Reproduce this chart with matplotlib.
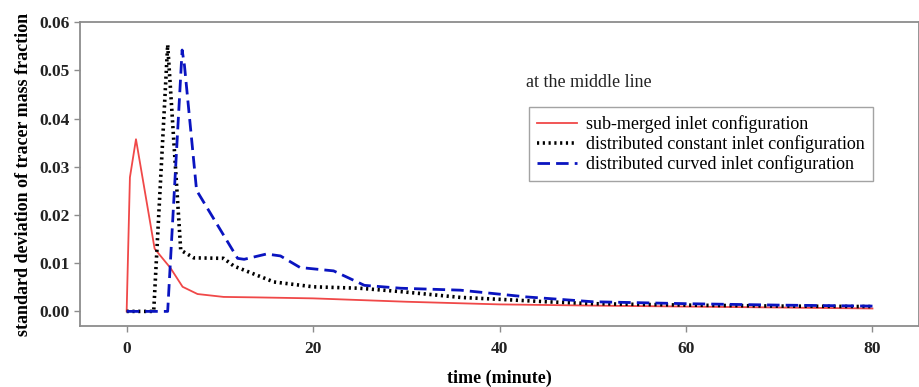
import matplotlib
matplotlib.use('Agg')
import matplotlib.pyplot as plt

# sub-merged inlet configuration (red, solid)
t_sub = [0.0, 0.35, 1.0, 3.0, 4.7, 6.0, 7.6, 10.4, 14.0, 20.0, 30.0, 40.0, 50.0, 60.0, 70.0, 80.0]
sd_sub = [0.0, 0.0278, 0.0357, 0.0130, 0.0090, 0.0051, 0.0036, 0.0030, 0.0029, 0.0027, 0.0020, 0.00145, 0.0012, 0.0010, 0.0008, 0.0006]

# distributed constant inlet configuration (black, dotted)
t_const = [0.0, 2.9, 4.4, 5.8, 7.2, 10.4, 11.5, 15.8, 20.0, 25.0, 29.4, 35.8, 40.0, 45.0, 50.0, 60.0, 70.0, 80.0]
sd_const = [0.0, 0.0, 0.0553, 0.0127, 0.0111, 0.0110, 0.0094, 0.0061, 0.0051, 0.0048, 0.0041, 0.0029, 0.0025, 0.0020, 0.0016, 0.0013, 0.0011, 0.0010]

# distributed curved inlet configuration (blue, dashed)
t_curv = [0.0, 4.4, 5.95, 6.2, 7.5, 11.9, 12.6, 15.0, 16.5, 18.6, 22.2, 25.5, 29.4, 35.8, 42.9, 50.0, 60.0, 70.0, 80.0]
sd_curv = [0.0, 0.0, 0.0542, 0.0510, 0.0251, 0.0110, 0.0108, 0.0119, 0.0115, 0.0091, 0.0084, 0.0054, 0.0048, 0.0044, 0.0030, 0.0020, 0.0016, 0.0013, 0.0011]

x_ticks = [0, 20, 40, 60, 80]
y_ticks = [0.00, 0.01, 0.02, 0.03, 0.04, 0.05, 0.06]

plt.rcParams['font.family'] = ['Liberation Serif', 'DejaVu Serif']

fig = plt.figure(figsize=(9.2, 3.87), dpi=100)
ax = fig.add_axes([0.087, 0.158, 0.912, 0.785])

ax.plot(t_sub, sd_sub, color='#f04848', lw=1.3, label='sub-merged inlet configuration')
ax.plot(t_const, sd_const, color='black', lw=2.6, linestyle=(0, (0.6, 1.0)),
        label='distributed constant inlet configuration')
ax.plot(t_curv, sd_curv, color='#0a14c0', lw=2.0, linestyle=(0, (4.5, 2.2)),
        label='distributed curved inlet configuration')

ax.set_xlim(-5, 85)
ax.set_ylim(-0.003, 0.06)
ax.set_xticks(x_ticks)
ax.set_yticks(y_ticks)
ax.set_xticklabels([str(v) for v in x_ticks])
ax.set_yticklabels([f'{v:.2f}' for v in y_ticks])

for s in ax.spines.values():
    s.set_color('#8c8c8c')
    s.set_linewidth(1.3)
ax.tick_params(colors='#8c8c8c', length=4, width=1.0, labelcolor='#222222')
for lab in ax.get_xticklabels() + ax.get_yticklabels():
    lab.set_fontweight('bold')
    lab.set_fontsize(12.5)
ax.tick_params(axis='x', pad=7)

ax.set_xlabel('time (minute)', fontsize=13, fontweight='bold', labelpad=9)
ax.set_ylabel('standard deviation of tracer mass fraction', fontsize=13, fontweight='bold', labelpad=5)

ax.text(0.532, 0.802, 'at the middle line', transform=ax.transAxes, fontsize=13,
        va='center', ha='left', color='#222222')

leg = ax.legend(loc='upper left', bbox_to_anchor=(0.535, 0.72), borderaxespad=0, fontsize=13,
                frameon=True, fancybox=False, handlelength=2.2, handletextpad=0.5,
                borderpad=0.45, labelspacing=0.12)
leg.get_frame().set_edgecolor('#8c8c8c')
leg.get_frame().set_linewidth(1.0)

fig.savefig('out.png', dpi=100)
